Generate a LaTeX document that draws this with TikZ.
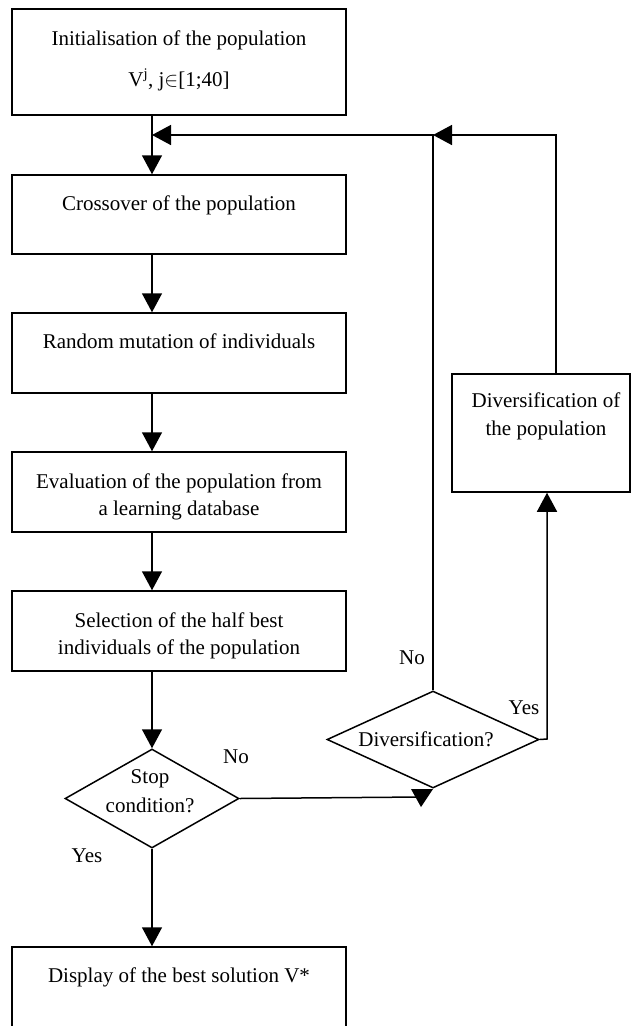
\documentclass[tikz,border=0pt]{standalone}
\usepackage{fontspec}
\setmainfont{Liberation Serif}
\usetikzlibrary{arrows.meta,shapes.geometric}
\begin{document}
\begin{tikzpicture}[x=1pt,y=-1pt,
  box/.style={draw,line width=1.5pt,rectangle,inner sep=0pt,minimum width=334pt},
  dia/.style={draw,line width=1.5pt,diamond,inner sep=0pt},
  txt/.style={anchor=base,inner sep=0pt,font=\fontsize{21}{25}\selectfont},
  line/.style={line width=1.5pt},
  arr/.style={line width=1.5pt,-{Triangle[length=19pt,width=20pt]}}]
\useasboundingbox (0,0) rectangle (639,1026);
% boxes
\node[box,minimum height=106pt] (init) at (179,62) {};
\node[box,minimum height=79pt] (cross) at (179,214.5) {};
\node[box,minimum height=80pt] (rand) at (179,353) {};
\node[box,minimum height=80pt] (eval) at (179,492) {};
\node[box,minimum height=80pt] (sel) at (179,631) {};
\node[box,minimum height=83pt] (disp) at (179,988.5) {};
\node[box,minimum width=178pt,minimum height=118pt] (div) at (541,433) {};
\node[dia,minimum width=174pt,minimum height=99pt] (stop) at (152,798.5) {};
\node[dia,minimum width=212pt,minimum height=97pt] (divd) at (433,739.5) {};
% texts
\node[txt] (t1a) at (179,45) {Initialisation of the population};
\node[txt] (t1b) at (179,86) {V\textsuperscript{j}, j$\in$[1;40]};
\node[txt] (t2) at (179,210) {Crossover of the population};
\node[txt] (t3) at (179,348) {Random mutation of individuals};
\node[txt] (t4a) at (179,488) {Evaluation of the population from};
\node[txt] (t4b) at (179,515) {a learning database};
\node[txt] (t5a) at (179,627) {Selection of the half best};
\node[txt] (t5b) at (179,654) {individuals of the population};
\node[txt] (t6) at (179,982) {Display of the best solution V*};
\node[txt] (t7a) at (546,407) {Diversification of};
\node[txt] (t7b) at (546,435) {the population};
\node[txt] (s1) at (150,783) {Stop};
\node[txt] (s2) at (150,812) {condition?};
\node[txt] (d1) at (426,746) {Diversification?};
\node[txt] (no1) at (236,763) {No};
\node[txt] (yes1) at (87,862) {Yes};
\node[txt] (no2) at (412,664) {No};
\node[txt] (yes2) at (524,714) {Yes};
% connectors
\coordinate (colx) at (152,0);
\coordinate (fb) at (152,135);
\coordinate (fbm) at (433,135);
\coordinate (fbr) at (556,135);
\coordinate (up) at (547,739);
\draw[arr] (colx |- init.south) -- (colx |- cross.north);
\draw[arr] (colx |- cross.south) -- (colx |- rand.north);
\draw[arr] (colx |- rand.south) -- (colx |- eval.north);
\draw[arr] (colx |- eval.south) -- (colx |- sel.north);
\draw[arr] (colx |- sel.south) -- (stop.north);
\draw[arr] (stop.south) -- (colx |- disp.north);
\draw[arr] (divd.north) -- (fbm) -- (fb);
\draw[arr] (fbr |- div.north) -- (fbr) -- (fbm);
\draw[arr] (divd.east) -- (up) -- (up |- div.south);
\coordinate (bt) at (421,797);
\draw[line] (stop.east) -- (bt);
\fill (411,789) -- (433,789) -- (421,807) -- cycle;
\end{tikzpicture}
\end{document}
